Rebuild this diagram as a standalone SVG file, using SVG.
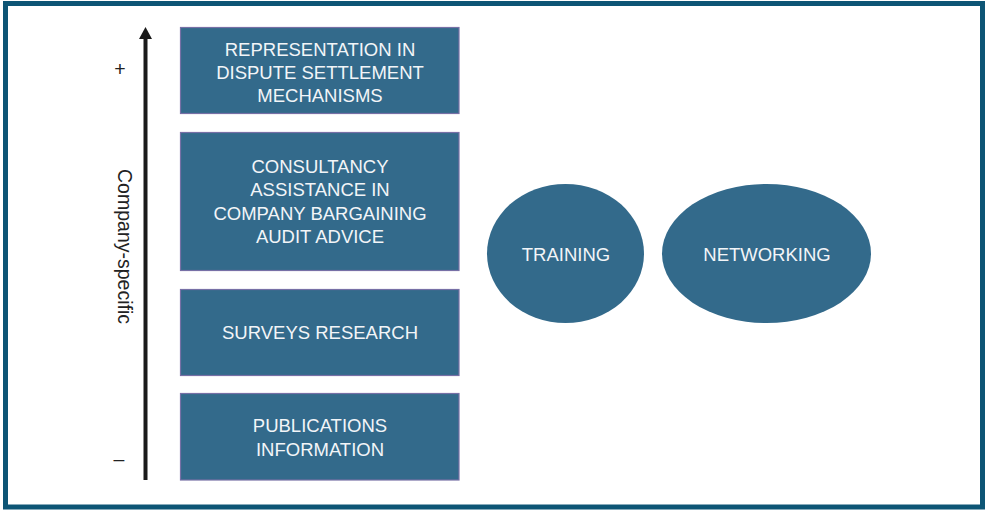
<svg xmlns="http://www.w3.org/2000/svg" width="985" height="510" viewBox="0 0 985 510">
  <style>
    .box { fill: #336a8b; stroke: #7770a6; stroke-width: 1.2; }
    .oval { fill: #336a8b; }
    .lbl { font-family: "Liberation Sans", Arial, sans-serif; font-size: 18.5px; fill: #f2f5f8; text-anchor: middle; }
    .axis { font-family: "Liberation Sans", Arial, sans-serif; font-size: 19.5px; fill: #222; text-anchor: middle; }
  </style>

  <!-- outer frame -->
  <rect x="5.5" y="3.5" width="977" height="503.5" fill="#ffffff" stroke="#0d5575" stroke-width="5"/>

  <!-- vertical scale: arrow, end marks and caption -->
  <g id="axis">
    <line x1="145.5" y1="480" x2="145.5" y2="38" stroke="#1a1a1a" stroke-width="4"/>
    <path d="M139,39 L152,39 L145.5,27 Z" fill="#1a1a1a"/>
    <text class="axis" x="120" y="76" font-size="23">+</text>
    <text class="axis" x="119" y="466" font-size="20">–</text>
    <text class="axis" transform="translate(118,246.5) rotate(90)">Company-specific</text>
  </g>

  <g id="representation">
    <rect class="box" x="180.5" y="27.5" width="278.5" height="86"/>
    <text class="lbl" x="320" y="56">REPRESENTATION IN</text>
    <text class="lbl" x="320" y="78.5">DISPUTE SETTLEMENT</text>
    <text class="lbl" x="320" y="101.5">MECHANISMS</text>
  </g>

  <g id="consultancy">
    <rect class="box" x="180.5" y="132.5" width="278.5" height="138"/>
    <text class="lbl" x="320" y="173">CONSULTANCY</text>
    <text class="lbl" x="320" y="196">ASSISTANCE IN</text>
    <text class="lbl" x="320" y="220">COMPANY BARGAINING</text>
    <text class="lbl" x="320" y="243">AUDIT ADVICE</text>
  </g>

  <g id="surveys">
    <rect class="box" x="180.5" y="289.5" width="278.5" height="86"/>
    <text class="lbl" x="320" y="339">SURVEYS RESEARCH</text>
  </g>

  <g id="publications">
    <rect class="box" x="180.5" y="393.5" width="278.5" height="86.5"/>
    <text class="lbl" x="320" y="432">PUBLICATIONS</text>
    <text class="lbl" x="320" y="456">INFORMATION</text>
  </g>

  <g id="training">
    <ellipse class="oval" cx="565.5" cy="253.5" rx="78.5" ry="69.5"/>
    <text class="lbl" x="566" y="261">TRAINING</text>
  </g>

  <g id="networking">
    <ellipse class="oval" cx="766.5" cy="253.5" rx="104.5" ry="69.5"/>
    <text class="lbl" x="767" y="261">NETWORKING</text>
  </g>

  <g id="connectors"></g>
</svg>
